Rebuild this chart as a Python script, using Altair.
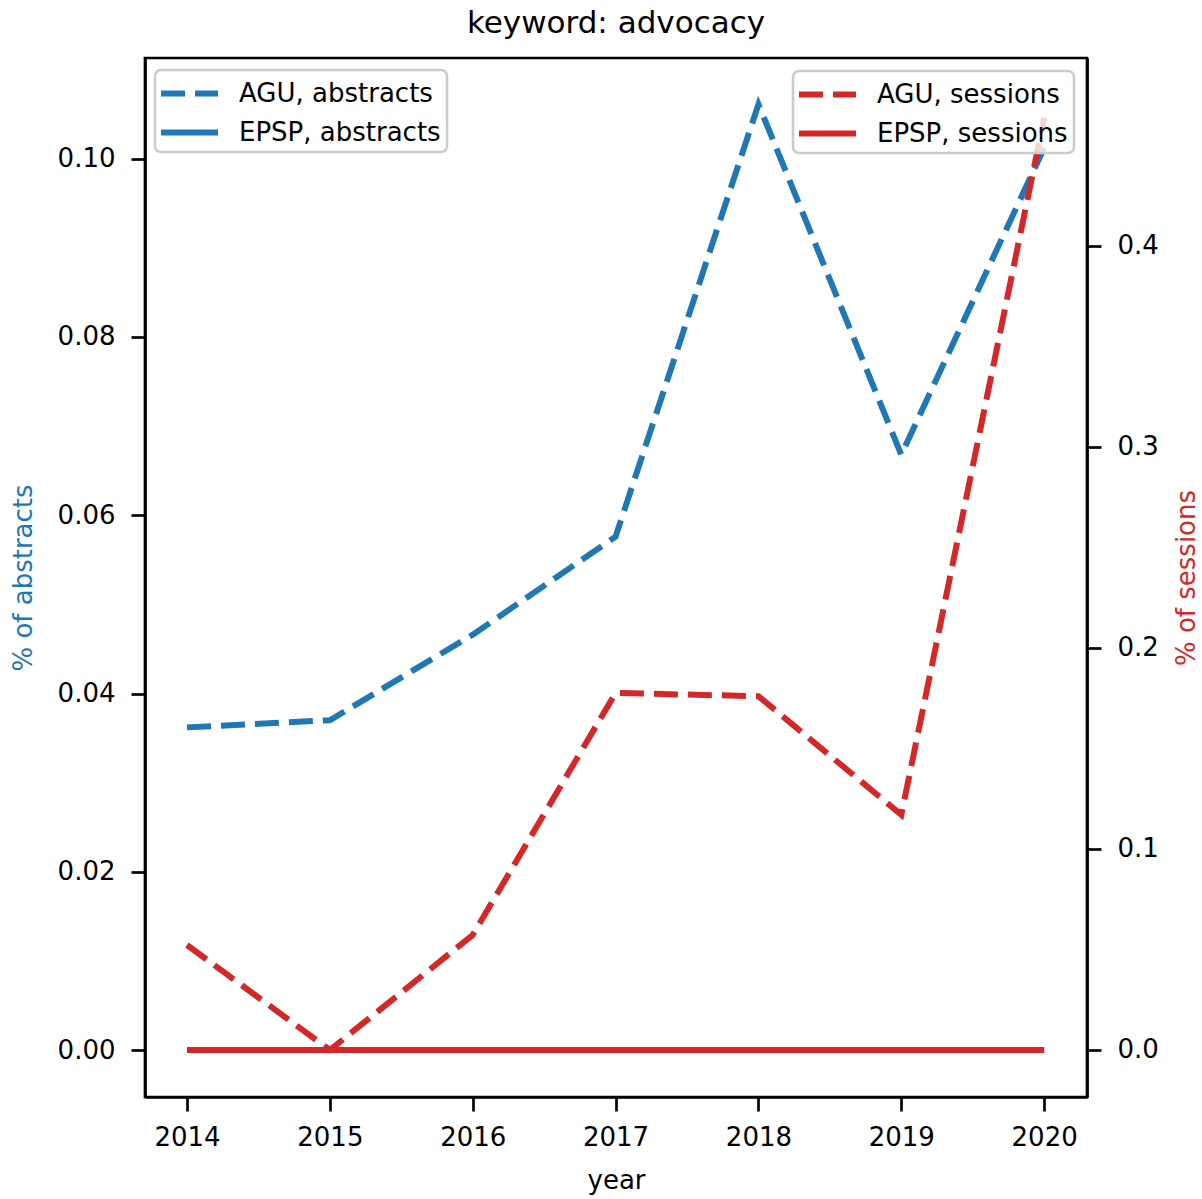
import altair as alt
import pandas as pd

years = [2014, 2015, 2016, 2017, 2018, 2019, 2020]
agu_abstracts = [0.0362, 0.0370, 0.0466, 0.0576, 0.1061, 0.0668, 0.1012]
epsp_abstracts = [0.0, 0.0, 0.0, 0.0, 0.0, 0.0, 0.0]
agu_sessions = [0.0522, 0.0, 0.0572, 0.1776, 0.1760, 0.1170, 0.4637]
epsp_sessions = [0.0, 0.0, 0.0, 0.0, 0.0, 0.0, 0.0]

abstract_series = ["AGU, abstracts", "EPSP, abstracts"]
session_series = ["AGU, sessions", "EPSP, sessions"]
left_ticks = [0.0, 0.02, 0.04, 0.06, 0.08, 0.10]
right_ticks = [0.0, 0.1, 0.2, 0.3, 0.4]

abstracts_df = pd.DataFrame({
    "year": years * 2,
    "value": agu_abstracts + epsp_abstracts,
    "series": [abstract_series[0]] * len(years) + [abstract_series[1]] * len(years),
})
sessions_df = pd.DataFrame({
    "year": years * 2,
    "value": agu_sessions + epsp_sessions,
    "series": [session_series[0]] * len(years) + [session_series[1]] * len(years),
})

FONT = "DejaVu Sans"
BLUE = "#1f77b4"
RED = "#d62728"
FS = 26
DASHES = [[24, 10], [1, 0]]

x_enc = alt.X(
    "year:Q",
    scale=alt.Scale(domain=[2013.706, 2020.30], nice=False, zero=False),
    axis=alt.Axis(values=years, format="d", title="year", labelPadding=13,
                  titlePadding=17),
)


def legend(orient, **kw):
    return alt.Legend(
        title=None, orient=orient, symbolType="M-2,0H2", symbolSize=812,
        symbolStrokeWidth=6, symbolOffset=11, labelFontSize=FS, labelFont=FONT,
        labelColor="black", labelLimit=500, labelOffset=32, rowPadding=8,
        padding=6, cornerRadius=6, fillColor="rgba(255,255,255,0.8)",
        strokeColor="#cccccc",
        **kw,
    )


abstracts = alt.Chart(abstracts_df).mark_line(color=BLUE, strokeWidth=6, strokeCap="butt").encode(
    x=x_enc,
    y=alt.Y(
        "value:Q",
        scale=alt.Scale(domain=[-0.00527, 0.1113], nice=False, zero=False),
        axis=alt.Axis(orient="left", values=left_ticks, format=".2f",
                      title="% of abstracts", titleColor=BLUE, labelPadding=16,
                      titlePadding=21),
    ),
    strokeDash=alt.StrokeDash(
        "series:N",
        scale=alt.Scale(domain=abstract_series, range=DASHES),
        legend=legend("none", legendX=10, legendY=12, symbolStrokeColor=BLUE),
    ),
)

sessions = alt.Chart(sessions_df).mark_line(color=RED, strokeWidth=6, strokeCap="butt").encode(
    x=x_enc,
    y=alt.Y(
        "value:Q",
        scale=alt.Scale(domain=[-0.0234, 0.4935], nice=False, zero=False),
        axis=alt.Axis(orient="right", values=right_ticks, format=".1f",
                      title="% of sessions", titleColor=RED, labelPadding=16,
                      titlePadding=41, titleAngle=270),
    ),
    strokeDash=alt.StrokeDash(
        "series:N",
        scale=alt.Scale(domain=session_series, range=DASHES),
        legend=legend("top-right", offset=13, symbolStrokeColor=RED),
    ),
)

chart = (
    alt.layer(abstracts, sessions)
    .resolve_scale(y="independent", strokeDash="independent")
    .resolve_legend(strokeDash="independent")
    .properties(
        width=942,
        height=1039,
        padding={"left": 145, "top": 58, "right": 115, "bottom": 102},
        autosize=alt.AutoSizeParams(type="none"),
        title=alt.Title("keyword: advocacy", fontSize=31, font=FONT,
                        fontWeight="normal", color="black", offset=18, anchor="middle"),
    )
    .configure(font=FONT, background="white")
    .configure_view(stroke="black", strokeWidth=2.7)
    .configure_legend(strokeWidth=2.5)
    .configure_axis(
        grid=False, domainColor="black", domainWidth=2.7, tickColor="black",
        tickWidth=2.7, tickSize=14, labelFontSize=FS, labelFont=FONT,
        labelColor="black", titleFontSize=FS, titleFont=FONT,
        titleFontWeight="normal", titleColor="black",
    )
)

chart.save("out.html", embed_options={"renderer": "svg", "actions": False})
